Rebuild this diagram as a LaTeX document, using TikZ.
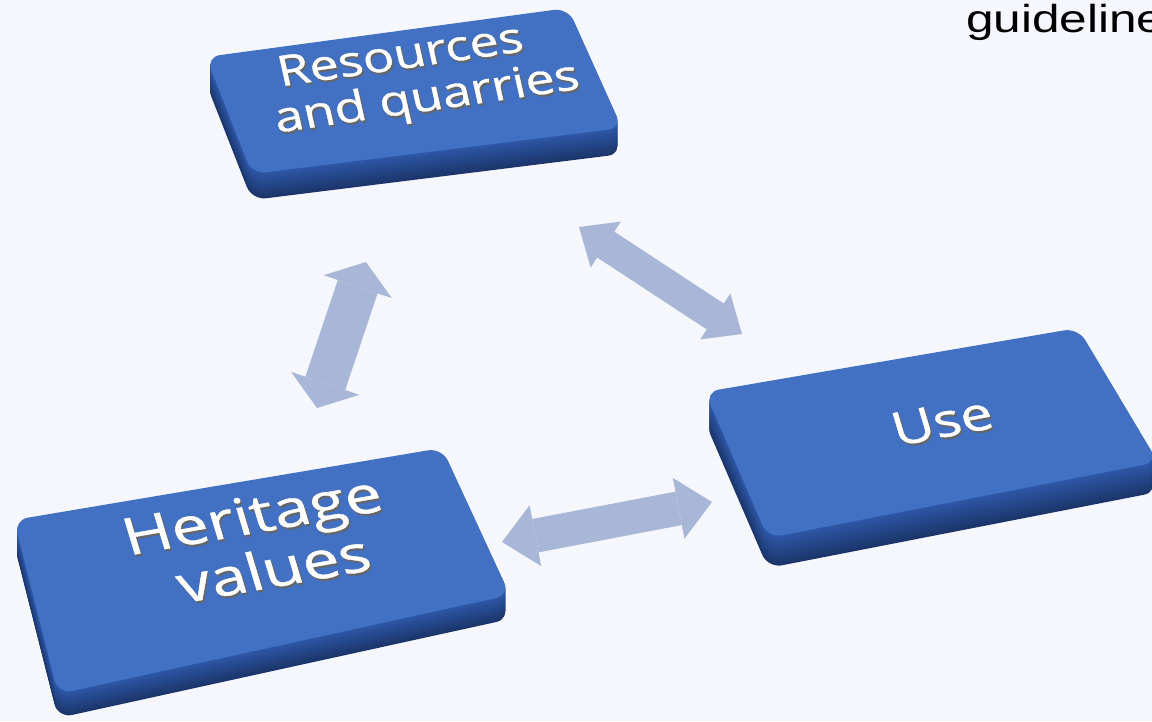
\documentclass[tikz,border=0pt]{standalone}
\usepackage{fontspec}
\setmainfont{Open Sans}
\newfontfamily\keyfont[FakeBold=0.8]{Open Sans}
\newfontfamily\arialfont{Liberation Sans}
\usetikzlibrary{arrows.meta,calc}

\definecolor{slidebg}{RGB}{245,247,252}
\definecolor{keyface}{RGB}{66,112,194}
\definecolor{keyside}{RGB}{46,88,168}
\definecolor{keybase}{RGB}{27,53,106}
\definecolor{linkblue}{RGB}{168,183,216}

\tikzset{
  keylabel/.style={text=white, align=center, inner sep=0pt},
  keyshadow/.style={text=black!60, align=center, inner sep=0pt},
  link/.style args={#1/#2/#3}{draw=linkblue, line width=#1pt, line cap=butt,
    {Triangle[width=#2pt,length=#3pt,line width=0pt]}-{Triangle[width=#2pt,length=#3pt,line width=0pt]}},
}

% raised key: face corners tl, tr, br, bl and the height of its side
\newcommand{\keycap}[5]{%
  \foreach \k in {#5,...,1} {
    \pgfmathtruncatemacro\mix{100*\k/#5}
    \fill[keybase!\mix!keyside, rounded corners=14pt]
      ($(#1)+(0,\k)$) -- ($(#2)+(0,\k)$) -- ($(#3)+(0,\k)$) -- ($(#4)+(0,\k)$) -- cycle;
  }
  \fill[keyface, rounded corners=14pt] (#1) -- (#2) -- (#3) -- (#4) -- cycle;
}

% white key text with its grey drop shadow
\newcommand{\keytext}[4]{%
  \node[keyshadow, #1] at ($(#3)+(1.5,2)$) {#4};
  \node[keylabel, #1] (#2) at (#3) {#4};
}

\begin{document}
\begin{tikzpicture}[x=1pt,y=-1pt]
  \useasboundingbox (0,0) rectangle (1152,721);
  \fill[slidebg] (0,0) rectangle (1152,721);

  \node[anchor=base west, inner sep=0pt, xscale=1.27,
    font=\arialfont\fontsize{39}{39}\selectfont] (guide) at (966,32) {guideline};

  % the three keys
  \keycap{206,57}{568,8}{622,128}{252,174}{26}
  \keycap{14,520}{442,448}{510,595}{58,694}{24}
  \keycap{705,392}{1078,328}{1158,462}{768,538}{30}

  \coordinate (rq c) at (406,81);
  \coordinate (hv c) at (260,542);
  \coordinate (use c) at (942,421);
  \keytext{xscale=1.24, rotate=10.2, font=\keyfont\fontsize{42}{45}\selectfont}{rq}{rq c}{Resources\\\hspace*{27pt}and quarries}
  \keytext{xscale=1.3, rotate=13, font=\keyfont\fontsize{51}{56}\selectfont}{hv}{hv c}{Heritage\\\hspace*{8pt}values}
  \keytext{xscale=1.25, rotate=13.4, font=\keyfont\fontsize{46}{50}\selectfont}{use}{use c}{Use}

  % links between the keys
  \coordinate (hv top) at (317,408);
  \coordinate (rq left) at (366,262);
  \coordinate (rq right) at (579,227);
  \coordinate (use top) at (742,334);
  \coordinate (hv right) at (502,542);
  \coordinate (use left) at (712,502);
  \draw[link=42/72/26] (hv top) -- (rq left);
  \draw[link=31/55/32] (rq right) -- (use top);
  \draw[link=34/62/34] (hv right) -- (use left);
\end{tikzpicture}
\end{document}
